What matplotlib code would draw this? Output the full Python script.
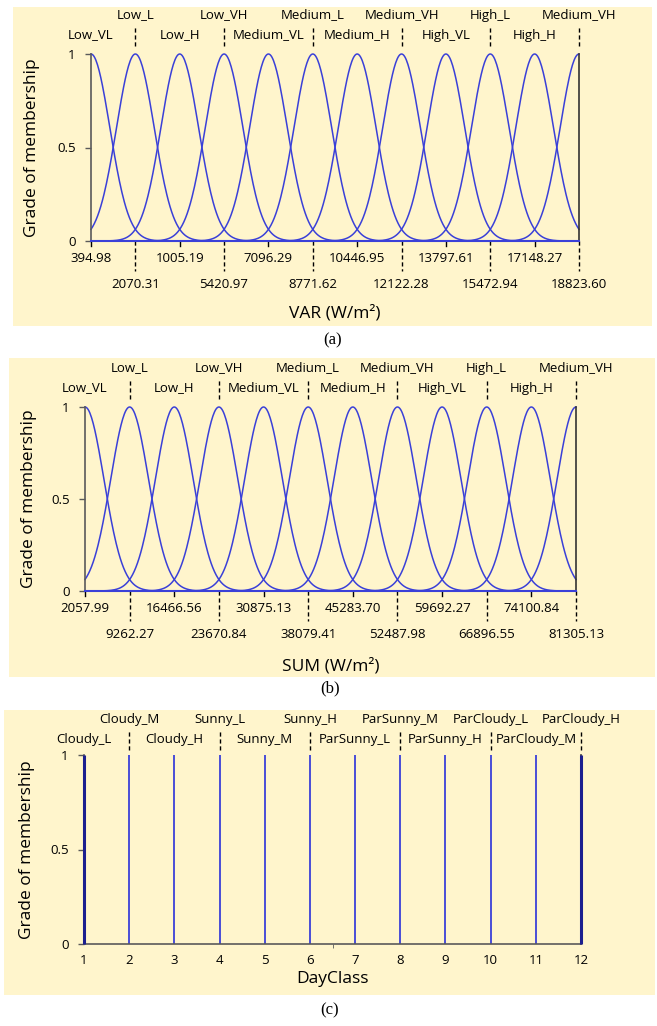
import numpy as np
import matplotlib
matplotlib.use('Agg')
import matplotlib.pyplot as plt
from matplotlib.patches import Rectangle
from matplotlib.transforms import blended_transform_factory

plt.rcParams['font.family'] = ['Open Sans', 'DejaVu Sans']

# nazivi neizrazitih skupova za VAR i SUM
mf_names = ['Low_VL', 'Low_L', 'Low_H', 'Low_VH', 'Medium_VL', 'Medium_L',
            'Medium_H', 'Medium_VH', 'High_VL', 'High_L', 'High_H', 'Medium_VH']

var_centers = [394.98, 2070.31, 3745.64, 5420.97, 7096.29, 8771.62,
               10446.95, 12122.28, 13797.61, 15472.94, 17148.27, 18823.60]
var_labels = ['394.98', '2070.31', '1005.19', '5420.97', '7096.29', '8771.62',
              '10446.95', '12122.28', '13797.61', '15472.94', '17148.27', '18823.60']

sum_centers = [2057.99, 9262.27, 16466.56, 23670.84, 30875.13, 38079.41,
               45283.70, 52487.98, 59692.27, 66896.55, 74100.84, 81305.13]
sum_labels = ['2057.99', '9262.27', '16466.56', '23670.84', '30875.13', '38079.41',
              '45283.70', '52487.98', '59692.27', '66896.55', '74100.84', '81305.13']

day_names = ['Cloudy_L', 'Cloudy_M', 'Cloudy_H', 'Sunny_L', 'Sunny_M', 'Sunny_H',
             'ParSunny_L', 'ParSunny_M', 'ParSunny_H', 'ParCloudy_L', 'ParCloudy_M', 'ParCloudy_H']
day_values = [1, 2, 3, 4, 5, 6, 7, 8, 9, 10, 11, 12]

W, H = 657, 1026
BG = '#fff5cc'
BLUE = '#3a40d8'
NAVY = '#1c1f8f'
GRAY = '#5a5a5a'

fig = plt.figure(figsize=(W / 100, H / 100), dpi=100)


def box(left, top, right, bottom):
    fig.patches.append(Rectangle((left / W, 1 - bottom / H), (right - left) / W, (bottom - top) / H,
                                 transform=fig.transFigure, facecolor=BG, edgecolor='none', zorder=-5))


def osi(left, top, right, bottom):
    ax = fig.add_axes([left / W, 1 - bottom / H, (right - left) / W, (bottom - top) / H])
    ax.set_facecolor('none')
    ax.set_ylim(0, 1)
    ax.set_yticks([0, 0.5, 1])
    ax.set_yticklabels(['0', '0.5', '1'])
    ax.tick_params(axis='y', length=4, width=1, color=GRAY, labelsize=9.5, pad=7)
    ax.spines['top'].set_visible(False)
    ax.spines['left'].set_color(GRAY)
    ax.spines['right'].set_color('#333333')
    ax.spines['left'].set_linewidth(1.2)
    ax.spines['right'].set_linewidth(1.2)
    return ax, bottom - top


def gornje_oznake(ax, xs, names, h, row1, row2, d_lo, d_hi):
    tr = blended_transform_factory(ax.transData, ax.transAxes)
    for i, (x, n) in enumerate(zip(xs, names)):
        if i % 2:
            ax.text(x, 1 + row1 / h, n, transform=tr, ha='center', va='center', fontsize=9.5)
            ax.plot([x, x], [1 + d_lo / h, 1 + d_hi / h], transform=tr, color='k',
                    lw=1, ls=(0, (3, 2)), clip_on=False)
        else:
            ax.text(x, 1 + row2 / h, n, transform=tr, ha='center', va='center', fontsize=9.5)


def donje_oznake(ax, xs, labels, h, row1, row2, d_hi):
    tr = blended_transform_factory(ax.transData, ax.transAxes)
    for i, (x, n) in enumerate(zip(xs, labels)):
        if i % 2:
            ax.text(x, -row2 / h, n, transform=tr, ha='center', va='center', fontsize=9.5)
            ax.plot([x, x], [0, -d_hi / h], transform=tr, color='k',
                    lw=1, ls=(0, (3, 2)), clip_on=False)
        else:
            ax.text(x, -row1 / h, n, transform=tr, ha='center', va='center', fontsize=9.5)
            ax.plot([x, x], [0, -5 / h], transform=tr, color='k', lw=1, clip_on=False)


def gauss_panel(ax, h, centers, labels, xlabel, xlab_off, ylab_x, left, width):
    lo, hi = centers[0], centers[-1]
    s = (centers[1] - centers[0]) / 2.355
    x = np.linspace(lo, hi, 600)
    for c in centers:
        ax.plot(x, np.exp(-(x - c) ** 2 / (2 * s ** 2)), color=BLUE, lw=1.1, clip_on=False)
    ax.set_xlim(lo, hi)
    ax.set_xticks([])
    ax.spines['bottom'].set_color(BLUE)
    ax.spines['bottom'].set_linewidth(1.5)
    gornje_oznake(ax, centers, mf_names, h, 39, 19, 8, 28)
    donje_oznake(ax, centers, labels, h, 18, 43, 30)
    ax.text(0.5, -xlab_off / h, xlabel, transform=ax.transAxes, ha='center', va='center', fontsize=12.5)
    ax.set_ylabel('Grade of membership', fontsize=12.5)
    ax.yaxis.set_label_coords((ylab_x - left) / width, 0.5)


# (a) VAR
box(13, 7, 652, 326)
ax1, h1 = osi(91, 54, 579, 241)
gauss_panel(ax1, h1, var_centers, var_labels, 'VAR (W/m²)', 72, 40, 91, 488)
fig.text(333 / W, 1 - 340 / H, '(a)', family='Liberation Serif', fontsize=12, ha='center', va='center')

# (b) SUM
box(9, 358, 655, 677)
ax2, h2 = osi(85, 407, 576, 591)
gauss_panel(ax2, h2, sum_centers, sum_labels, 'SUM (W/m²)', 75, 37, 85, 491)
fig.text(330 / W, 1 - 688 / H, '(b)', family='Liberation Serif', fontsize=12, ha='center', va='center')

# (c) DayClass - singletoni
box(4, 710, 655, 995)
ax3, h3 = osi(84, 755, 581, 944)
for d in day_values:
    if d == day_values[0] or d == day_values[-1]:
        ax3.vlines(d, 0, 1, color=NAVY, lw=2.2, clip_on=False, zorder=3)
    else:
        ax3.vlines(d, 0, 1, color=BLUE, lw=1.3, clip_on=False)
ax3.set_xlim(day_values[0], day_values[-1])
ax3.set_xticks(day_values)
ax3.set_xticklabels([str(d) for d in day_values])
ax3.set_xticks([1, 6.5, 12], minor=True)
ax3.tick_params(axis='x', which='major', length=0, labelsize=9.5, pad=7)
ax3.tick_params(axis='x', which='minor', length=3, color=GRAY)
ax3.spines['bottom'].set_color(GRAY)
ax3.spines['bottom'].set_linewidth(1.2)
gornje_oznake(ax3, day_values, day_names, h3, 35, 15, 5, 25)
ax3.text(0.5, -35 / h3, 'DayClass', transform=ax3.transAxes, ha='center', va='center', fontsize=12.5)
ax3.set_ylabel('Grade of membership', fontsize=12.5)
ax3.yaxis.set_label_coords((35 - 84) / 497, 0.5)
fig.text(330 / W, 1 - 1010 / H, '(c)', family='Liberation Serif', fontsize=12, ha='center', va='center')

fig.savefig('out.png', dpi=100)
